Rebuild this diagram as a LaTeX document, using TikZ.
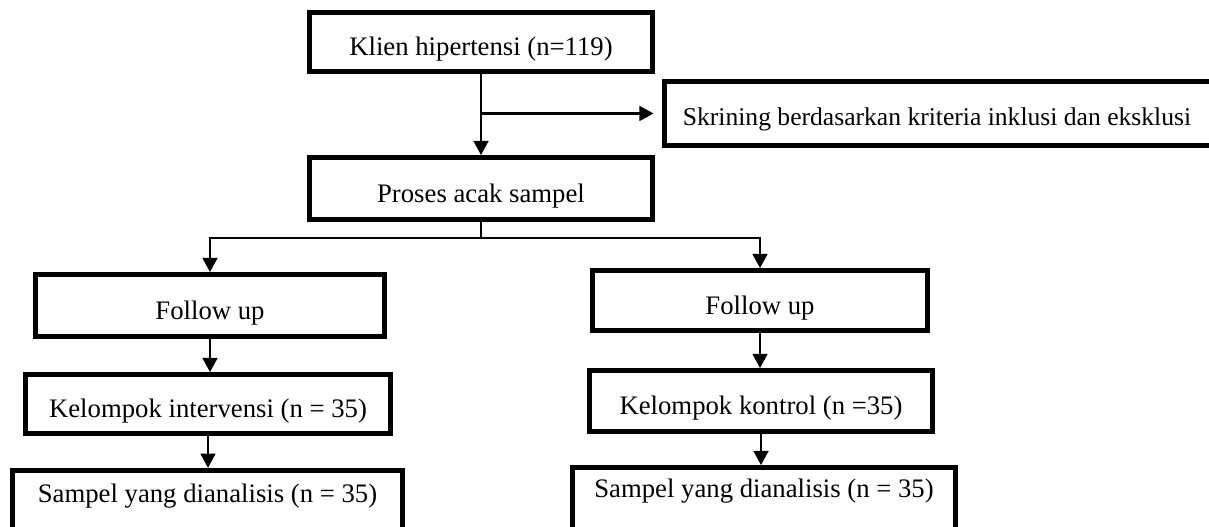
\documentclass[tikz,border=0pt]{standalone}
\usepackage{fontspec}
\setmainfont{Liberation Serif}
\usetikzlibrary{arrows.meta}

\tikzset{
  kotak/.style={draw, line width=3.5pt, inner sep=0pt, font=\fontsize{19pt}{23pt}\selectfont,
                text height=23.7pt, text depth=4pt},
  teks/.style={inner sep=0pt, font=\fontsize{19pt}{23pt}\selectfont},
  panah/.style={line width=1.5pt, -{Triangle[width=10.5pt,length=10pt]}},
  garis/.style={line width=1.3pt}
}

\begin{document}
\begin{tikzpicture}[x=0.025cm,y=-0.025cm]
\useasboundingbox (0,0) rectangle (1209,526);

\node[kotak, minimum width=8.575cm, minimum height=1.475cm] (klien) at (481,42) {Klien hipertensi (n=119)};
\node[kotak, minimum width=13.775cm, minimum height=1.6cm] (skrining) at (940,113.5) {};
\node[teks, font=\fontsize{18.2pt}{22pt}\selectfont] (teksS) at (937,119) {Skrining berdasarkan kriteria inklusi dan eksklusi};
\node[kotak, minimum width=8.575cm, minimum height=1.55cm] (proses) at (481,188.5) {Proses acak sampel};

%\draw[step=1cm,gray,very thin] (0,0) grid (1209,526); %background grid

\node[kotak, minimum width=8.725cm, minimum height=1.55cm] (followA) at (210,305.5) {Follow up};
\node[kotak, minimum width=8.375cm, minimum height=1.5cm] (followB) at (760,300.5) {Follow up};

\node[kotak, minimum width=9.125cm, minimum height=1.475cm] (kelA) at (208,404) {Kelompok intervensi (n = 35)};
\node[kotak, minimum width=8.575cm, minimum height=1.525cm] (kelB) at (761,401) {Kelompok kontrol (n =35)};

% kotak bawah terpotong di tepi gambar
\node[kotak, minimum width=9.75cm, minimum height=1.7375cm] (sampelA) at (207.5,505) {};
\node[kotak, minimum width=9.575cm, minimum height=1.8125cm] (sampelB) at (764,503.75) {};
\node[teks] (teksA) at (207.5,496.5) {Sampel yang dianalisis (n = 35)};
\node[teks] (teksB) at (764,491) {Sampel yang dianalisis (n = 35)};

\draw[panah] (klien) -- (proses);
\draw[panah, shorten >=6pt] (klien.south |- skrining.west) -- (skrining.west);

\coordinate (cabang) at (481,238);
\draw[garis] (proses) -- (cabang);
\draw[panah] (cabang) -| (followA);
\draw[panah] (cabang) -| (followB);

\draw[panah] (followA.south) -- (followA.south |- kelA.north);
\draw[panah] (kelA.south) -- (kelA.south |- sampelA.north);
\draw[panah] (followB.south) -- (followB.south |- kelB.north);
\draw[panah] (kelB.south) -- (kelB.south |- sampelB.north);
\end{tikzpicture}
\end{document}
